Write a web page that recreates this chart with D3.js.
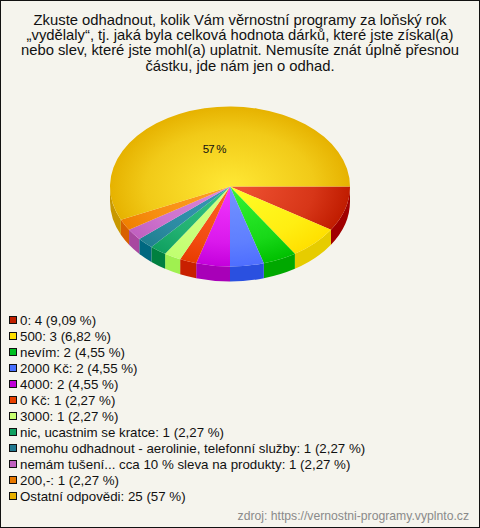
<!DOCTYPE html>
<html><head><meta charset="utf-8">
<script src="https://cdn.jsdelivr.net/npm/d3@7/dist/d3.min.js"></script>
<style>html,body{margin:0;padding:0;background:#f5f4ed}svg{display:block}text{font-family:"Liberation Sans",Arial,sans-serif}</style>
</head><body><script>
const titleLines = ["Zkuste odhadnout, kolik Vám věrnostní programy za loňský rok","„vydělaly“, tj. jaká byla celková hodnota dárků, které jste získal(a)","nebo slev, které jste mohl(a) uplatnit. Nemusíte znát úplně přesnou","částku, jde nám jen o odhad."];
const categories = ["0","500","nevím","2000 Kč","4000","0 Kč","3000","nic, ucastnim se kratce","nemohu odhadnout - aerolinie, telefonní služby","nemám tušení... cca 10 % sleva na produkty","200,-","Ostatní odpovědi"];
const values = [4,3,2,2,2,1,1,1,1,1,1,25];
const percents = ["9,09 %","6,82 %","4,55 %","4,55 %","4,55 %","2,27 %","2,27 %","2,27 %","2,27 %","2,27 %","2,27 %","57 %"];
const sliceLabels = ["","","","","","","","","","","","57 %"];
const sourceText = "zdroj: https://vernostni-programy.vyplnto.cz";

const inner = ["#f25535","#ffff28","#35f535","#7494ff","#f438ff","#ff6025","#d4ff85","#35c485","#3a98b8","#dc88dc","#ffa028","#ffe835"];
const edge  = ["#c01c00","#ffe000","#00c000","#4e6eff","#c400dc","#e83c00","#c0ff70","#10a060","#208090","#c060c0","#f08000","#e6b200"];
const side  = ["#a00000","#e6cc00","#00a800","#2a50e0","#a800b8","#c82000","#a0f050","#008040","#006880","#a848a0","#d86000","#c89800"];
const swatch= ["#c02000","#ffe000","#00c020","#4870ff","#c000d8","#e84000","#c8ff70","#10a060","#207890","#c060c0","#e87800","#e8b000"];

const W=480,H=528,R=120,cx=230,cy=186.5,squash=2/3,depth=22.5;
const svg=d3.select("body").append("svg").attr("width",W).attr("height",H);
svg.append("rect").attr("x",.5).attr("y",.5).attr("width",W-1).attr("height",H-1).attr("fill","#f5f4ed").attr("stroke","#111");

svg.append("g").selectAll("text").data(titleLines).join("text")
  .attr("x",240).attr("y",(d,i)=>24.7+i*15.33).attr("text-anchor","middle")
  .attr("font-size",14.8).attr("fill","#111").text(d=>d);

const defs=svg.append("defs");
values.forEach((v,i)=>{
  const g=defs.append("radialGradient").attr("id","g"+i).attr("gradientUnits","userSpaceOnUse")
    .attr("cx",0).attr("cy",0).attr("r",R);
  const mix=d3.interpolateRgb(inner[i],edge[i]);
  g.append("stop").attr("offset",0).attr("stop-color",inner[i]);
  g.append("stop").attr("offset",.35).attr("stop-color",mix(.28));
  g.append("stop").attr("offset",.7).attr("stop-color",mix(.55));
  g.append("stop").attr("offset",1).attr("stop-color",edge[i]);
});

const pie=d3.pie().sort(null).value(d=>d).startAngle(Math.PI/2).endAngle(Math.PI/2+2*Math.PI);
const arcs=pie(values);
const arc=d3.arc().innerRadius(0).outerRadius(R);
const pieG=svg.append("g").attr("transform",`translate(${cx},${cy}) scale(1,${squash})`);

function wall(a){
  const a0=Math.max(a.startAngle-Math.PI/2,0), a1=Math.min(a.endAngle-Math.PI/2,Math.PI);
  if(a1<=a0) return null;
  const p=d3.path();
  p.arc(0,0,R,a0,a1);
  p.lineTo(R*Math.cos(a1),R*Math.sin(a1)+depth);
  p.arc(0,depth,R,a1,a0,true);
  p.closePath();
  return p.toString();
}
pieG.append("g").selectAll("path").data(arcs).join("path")
  .attr("d",wall).attr("fill",(d,i)=>side[i]);
pieG.append("g").selectAll("path").data(arcs).join("path")
  .attr("d",arc).attr("fill",(d,i)=>`url(#g${i})`);

const labelArc=d3.arc().innerRadius(R*.5).outerRadius(R*.5);
svg.append("g").selectAll("text").data(arcs).join("text")
  .filter((d,i)=>sliceLabels[i]!=="")
  .attr("x",d=>cx+labelArc.centroid(d)[0]-3)
  .attr("y",d=>cy+labelArc.centroid(d)[1]*squash+6)
  .attr("text-anchor","middle").attr("font-size",11.5).attr("fill","#111").attr("letter-spacing",-.8)
  .text((d)=>sliceLabels[d.index]);

const rowY=d3.scalePoint().domain(d3.range(categories.length)).range([320,496]);
const leg=svg.append("g").selectAll("g").data(categories).join("g")
  .attr("transform",(d,i)=>`translate(0,${rowY(i)})`);
leg.append("rect").attr("x",9.5).attr("y",-3.5).attr("width",7).attr("height",7)
  .attr("fill",(d,i)=>swatch[i]).attr("stroke","#111");
leg.append("text").attr("x",20).attr("y",5).attr("font-size",13.3).attr("fill","#111")
  .text((d,i)=>`${d}: ${values[i]} (${percents[i]})`);

svg.append("text").attr("x",469).attr("y",520).attr("text-anchor","end")
  .attr("font-size",12.2).attr("fill","#8a8a8a").text(sourceText);
</script></body></html>
